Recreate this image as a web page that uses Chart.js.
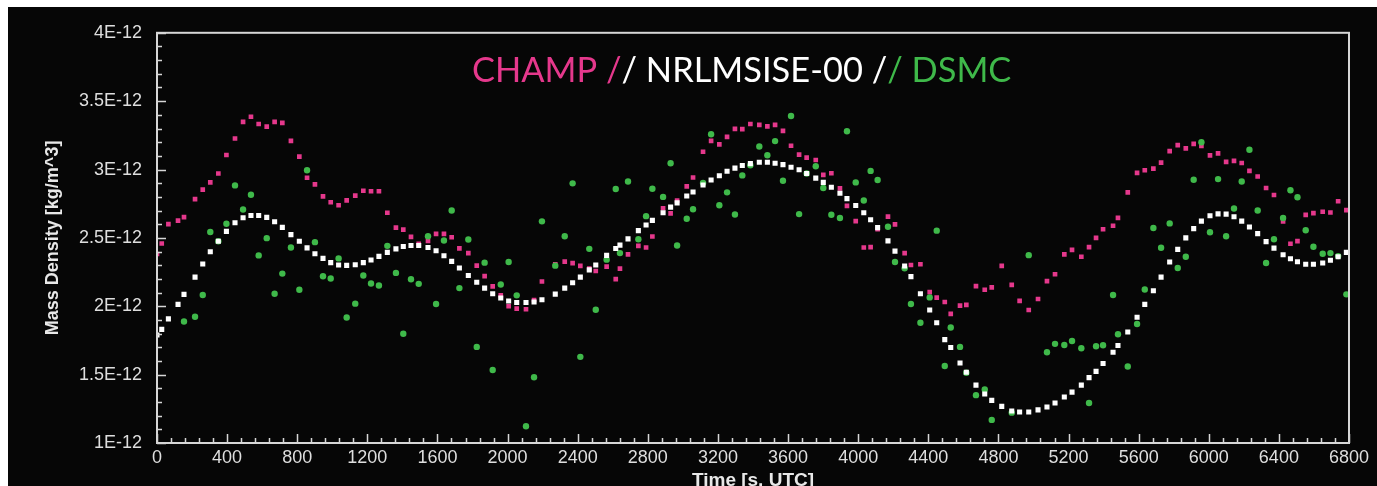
<!DOCTYPE html>
<html>
<head>
<meta charset="utf-8">
<script src="https://cdn.jsdelivr.net/npm/chart.js@4.4.0/dist/chart.umd.min.js"></script>
<style>
  html, body { margin: 0; padding: 0; background: #fff; overflow: hidden; }
  #wrap { position: absolute; left: 8px; top: 7px; width: 1369px; height: 500px; background: #060606; }
</style>
</head>
<body>
<div id="wrap"><canvas id="chartDensity" width="1369" height="500"></canvas></div>
<script>
// time since start [s, UTC]
const timeSec = [
    0, 27, 65, 120, 154, 217, 261, 304, 350, 396,
    445, 491, 536, 580, 626, 671, 715, 764, 812, 856,
    901, 947, 991, 1036, 1082, 1131, 1177, 1221, 1266, 1314,
    1363, 1405, 1449, 1493, 1546, 1592, 1637, 1681, 1725, 1776,
    1824, 1869, 1915, 1961, 2006, 2052, 2105, 2151, 2196,
    2272, 2326, 2371, 2415, 2466, 2503, 2565, 2617, 2641, 2687, 2746, 2790,
    2826, 2887, 2930, 2967, 3022, 3058, 3115, 3161, 3208, 3252, 3297, 3339,
    3385, 3436, 3482, 3526, 3571, 3617, 3663, 3706, 3758, 3801, 3847, 3896,
    3936, 3986, 4032, 4071, 4111, 4170, 4210, 4265, 4301, 4355, 4408, 4448, 4494,
    4528, 4581, 4617, 4672, 4722, 4762, 4819, 4876, 4921, 4973, 5026, 5077,
    5123, 5176, 5220, 5273, 5317, 5357, 5397, 5454, 5482, 5538, 5591, 5635,
    5684, 5728, 5777, 5823, 5869, 5914, 5958, 6007, 6053, 6099, 6144, 6188,
    6232, 6279, 6327, 6372, 6424, 6466, 6506, 6553, 6597, 6650, 6694, 6738, 6785
];

// mass density, in units of 1E-12 kg/m^3
const champDensity = [
    2.382, 2.459, 2.601, 2.626, 2.652, 2.783, 2.853, 2.906, 2.971, 3.106,
    3.227, 3.348, 3.386, 3.333, 3.314, 3.348, 3.341, 3.210, 3.094, 2.940,
    2.891, 2.804, 2.761, 2.739, 2.775, 2.809, 2.845, 2.841, 2.841, 2.684,
    2.575, 2.560, 2.507, 2.456, 2.478, 2.529, 2.529, 2.505, 2.423, 2.389,
    2.297, 2.220, 2.145, 2.080, 2.000, 1.983, 1.978, 2.046, 2.181,
    2.307, 2.326, 2.316, 2.295, 2.275, 2.258, 2.290, 2.198, 2.275, 2.379, 2.442, 2.430,
    2.510, 2.717, 2.679, 2.773, 2.877, 2.942, 3.130, 3.210, 3.184, 3.239, 3.297, 3.295,
    3.333, 3.326, 3.316, 3.326, 3.283, 3.174, 3.109, 3.087, 3.070, 2.961, 2.973, 2.862,
    2.734, 2.623, 2.430, 2.432, 2.563, 2.655, 2.599, 2.389, 2.302, 2.307, 2.104, 2.063, 2.031,
    1.944, 2.005, 2.010, 2.147, 2.121, 2.138, 2.295, 2.157, 2.039, 1.973, 2.053, 2.184,
    2.234, 2.379, 2.413, 2.362, 2.432, 2.500, 2.563, 2.589, 2.647, 2.833, 2.976, 2.995,
    3.007, 3.051, 3.135, 3.179, 3.155, 3.188, 3.172, 3.104, 3.118, 3.056, 3.063, 3.048,
    2.990, 2.949, 2.865, 2.814, 2.621, 2.457, 2.476, 2.669, 2.681, 2.691, 2.686, 2.768, 2.703
];

const nrlmsiseDensity = [
    1.790, 1.831, 1.908, 2.014, 2.087, 2.213, 2.309, 2.399, 2.476, 2.548,
    2.611, 2.647, 2.664, 2.664, 2.650, 2.618, 2.577, 2.524, 2.476, 2.427,
    2.384, 2.350, 2.319, 2.302, 2.299, 2.304, 2.319, 2.338, 2.365, 2.394,
    2.420, 2.437, 2.444, 2.444, 2.430, 2.406, 2.370, 2.328, 2.280, 2.225,
    2.176, 2.133, 2.092, 2.060, 2.039, 2.027, 2.027, 2.031, 2.048,
    2.089, 2.133, 2.172, 2.213, 2.266, 2.302, 2.372, 2.423, 2.447, 2.493, 2.553, 2.594,
    2.628, 2.684, 2.725, 2.756, 2.807, 2.836, 2.887, 2.923, 2.954, 2.988, 3.010, 3.029,
    3.043, 3.053, 3.053, 3.046, 3.036, 3.017, 2.998, 2.971, 2.937, 2.906, 2.870, 2.826,
    2.787, 2.737, 2.684, 2.633, 2.575, 2.478, 2.403, 2.295, 2.217, 2.092, 1.973, 1.879, 1.756,
    1.698, 1.585, 1.517, 1.423, 1.358, 1.312, 1.268, 1.234, 1.227, 1.227, 1.242, 1.263,
    1.292, 1.336, 1.372, 1.423, 1.478, 1.524, 1.582, 1.664, 1.713, 1.812, 1.920, 2.014,
    2.114, 2.213, 2.324, 2.416, 2.500, 2.568, 2.623, 2.662, 2.676, 2.674, 2.655, 2.623,
    2.580, 2.531, 2.473, 2.425, 2.377, 2.348, 2.326, 2.307, 2.307, 2.316, 2.336, 2.362, 2.394
];

const dsmcDensity = [
    null, null, null, null, 1.889, 1.923, 2.082, 2.543, 2.476, 2.604,
    2.884, 2.708, 2.816, 2.372, 2.498, 2.092, 2.239, 2.430, 2.121, 2.995,
    2.469, 2.220, 2.203, 2.350, 1.918, 2.019, 2.225, 2.167, 2.152, 2.442,
    2.244, 1.799, 2.198, 2.164, 2.512, 2.017, 2.481, 2.700, 2.133, 2.488,
    1.703, 2.319, 1.534, 2.159, 2.324, 2.080, 1.123, 1.481, 2.621,
    2.297, 2.512, 2.899, 1.630, 2.420, 1.974, 2.341, 2.858, 2.389, 2.913, 2.490, 2.659,
    2.860, 2.800, 3.046, 2.444, 2.640, 2.710, 2.901, 3.258, 2.739, 2.833, 2.671, 2.957,
    3.031, 3.169, 3.104, 3.208, 2.918, 3.391, 2.674, 2.971, 3.024, 2.865, 2.669, 2.645,
    3.280, 2.906, 2.773, 2.990, 2.923, 2.582, 2.324, 2.278, 2.017, 1.879, 2.065, 2.553, 1.563,
    1.845, 1.703, 1.514, 1.350, 1.391, 1.169, null, 1.222, null, 2.374, null, 1.664,
    1.725, 1.717, 1.746, 1.693, 1.292, 1.708, 1.715, 2.082, 1.795, 1.560, 1.870, 2.123,
    2.572, 2.428, 2.606, 2.280, 2.362, 2.925, 3.200, 2.541, 2.930, 2.512, 2.715, 2.913,
    3.145, 2.700, 2.316, 2.490, 2.645, 2.848, 2.797, 2.556, 2.435, 2.384, 2.389, 2.367, 2.087
];

const titleParts = ['CHAMP /', '/ NRLMSISE-00 /', '/ DSMC'];

const PINK = '#e5388c';
const GREEN = '#3fb94a';
const WHITE = '#ffffff';
const TEXT = '#dedede';

function toPoints(ys) {
    return timeSec.map((t, i) => ({ x: t, y: ys[i] }));
}

// box frame + inward major/minor ticks
const frameTicks = {
    id: 'frameTicks',
    afterDatasetsDraw(chart) {
        const { ctx, chartArea: a, scales: { x, y } } = chart;
        ctx.save();
        ctx.strokeStyle = '#d6d6d6';
        ctx.lineWidth = 2;
        ctx.strokeRect(a.left, a.top, a.right - a.left, a.bottom - a.top);
        ctx.lineWidth = 1.5;
        ctx.beginPath();
        for (let t = 0; t <= 6800; t += 80) {
            const px = Math.round(x.getPixelForValue(t)) + 0.5;
            const len = t % 400 === 0 ? 9 : 5;
            ctx.moveTo(px, a.bottom);
            ctx.lineTo(px, a.bottom - len);
        }
        for (let k = 10; k <= 40; k++) {
            const py = Math.round(y.getPixelForValue(k / 10)) + 0.5;
            const len = k % 5 === 0 ? 9 : 5;
            ctx.moveTo(a.left, py);
            ctx.lineTo(a.left + len, py);
        }
        ctx.stroke();
        ctx.restore();
    }
};

// multi-coloured heading
const colourTitle = {
    id: 'colourTitle',
    afterDraw(chart) {
        const ctx = chart.ctx;
        const colours = [PINK, WHITE, GREEN];
        ctx.save();
        ctx.font = '36px Lato';
        const full = ctx.measureText(titleParts.join('')).width;
        const size = 36 * 524 / full;
        ctx.font = size + 'px Lato';
        ctx.textBaseline = 'alphabetic';
        let x = 464;
        titleParts.forEach((s, i) => {
            ctx.fillStyle = colours[i];
            ctx.fillText(s, x, 75);
            x += ctx.measureText(s).width;
        });
        ctx.restore();
    }
};

const ctx = document.getElementById('chartDensity').getContext('2d');
const myChart = new Chart(ctx, {
    type: 'scatter',
    data: {
        datasets: [{
            label: 'NRLMSISE-00',
            data: toPoints(nrlmsiseDensity),
            pointStyle: 'rect',
            pointRadius: 3.6,
            backgroundColor: WHITE,
            borderWidth: 0
        }, {
            label: 'DSMC',
            data: toPoints(dsmcDensity),
            pointStyle: 'circle',
            pointRadius: 3.2,
            backgroundColor: GREEN,
            borderWidth: 0
        }, {
            label: 'CHAMP',
            data: toPoints(champDensity),
            pointStyle: 'rect',
            pointRadius: 3.3,
            backgroundColor: PINK,
            borderWidth: 0
        }]
    },
    options: {
        responsive: false,
        animation: false,
        layout: { padding: { top: 22, right: 28, left: 0, bottom: 0 } },
        plugins: {
            legend: { display: false },
            tooltip: { enabled: false }
        },
        scales: {
            x: {
                type: 'linear',
                min: 0,
                max: 6800,
                afterFit: function (s) { s.height = 64; },
                grid: { display: false, drawTicks: false },
                border: { display: false },
                ticks: {
                    stepSize: 400,
                    autoSkip: false,
                    maxRotation: 0,
                    padding: 4,
                    color: TEXT,
                    font: { family: 'Liberation Sans', size: 18 },
                    callback: function (v) { return String(v); }
                },
                title: {
                    display: true,
                    text: 'Time [s, UTC]',
                    color: '#e8e8e8',
                    font: { family: 'Liberation Sans', size: 19, weight: 'bold' },
                    padding: { top: 0, bottom: 15 }
                }
            },
            y: {
                min: 1,
                max: 4,
                afterFit: function (s) { s.width = 149; },
                grid: { display: false, drawTicks: false },
                border: { display: false },
                ticks: {
                    stepSize: 0.5,
                    padding: 15,
                    color: TEXT,
                    font: { family: 'Liberation Sans', size: 18 },
                    callback: function (v) { return v + 'E-12'; }
                },
                title: {
                    display: true,
                    text: 'Mass Density [kg/m^3]',
                    color: '#e8e8e8',
                    font: { family: 'Liberation Sans', size: 18, weight: 'bold' },
                    padding: { top: 34, bottom: 0 }
                }
            }
        }
    },
    plugins: [frameTicks, colourTitle]
});
</script>
</body>
</html>
